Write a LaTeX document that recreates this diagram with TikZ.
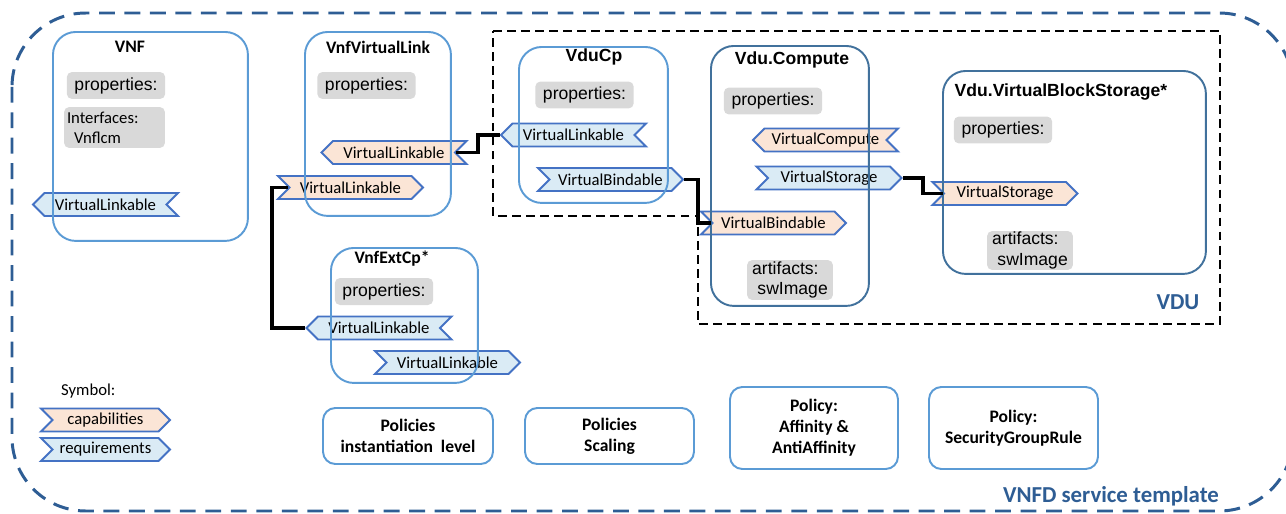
\documentclass[tikz,border=0pt]{standalone}
\usepackage{fontspec}
\setmainfont{Carlito}
\newfontfamily\arial{Liberation Sans}
\usetikzlibrary{shapes.symbols,calc}
\definecolor{boxblue}{HTML}{5B9BD5}
\definecolor{darkbox}{HTML}{41719C}
\definecolor{tagline}{HTML}{4472C4}
\definecolor{capfill}{HTML}{FBE5D6}
\definecolor{reqfill}{HTML}{DAEBF5}
\definecolor{propgray}{HTML}{D9D9D9}
\definecolor{tplblue}{HTML}{2E5D94}

\begin{document}
\begin{tikzpicture}[x=0.02cm,y=-0.02cm,
        box/.style={draw=boxblue,line width=1.1pt,rounded corners=13pt,anchor=north west,inner sep=0},
        dbox/.style={box,draw=darkbox},
        pbox/.style={draw=boxblue,line width=1.1pt,rounded corners=7pt,inner sep=0,align=center,font=\bfseries\fontsize{10}{12}\selectfont},
        prop/.style={fill=propgray,rounded corners=3pt,inner sep=0,minimum width=1.97cm,minimum height=0.54cm,font=\arial\fontsize{10}{12}\selectfont},
        tag/.style={signal,draw=tagline,line width=1.1pt,signal pointer angle=90,minimum width=2.9cm,minimum height=0.46cm,inner sep=0,font=\fontsize{9.5}{11}\selectfont},
        capl/.style={tag,fill=capfill,signal to=west,signal from=east},
        capr/.style={tag,fill=capfill,signal to=east,signal from=west},
        reql/.style={tag,fill=reqfill,signal to=west,signal from=east},
        reqr/.style={tag,fill=reqfill,signal to=east,signal from=west},
        link/.style={line width=2pt},
        ttl/.style={font=\bfseries\fontsize{10}{12}\selectfont},
        attl/.style={font=\arial\bfseries\fontsize{10}{12}\selectfont}]
        \useasboundingbox (0,0) rectangle (1286,514);
        \draw[tplblue,line width=1.7pt,dash pattern=on 9pt off 5.5pt,rounded corners=42pt] (12,13) rectangle (1293,511);
        \draw[line width=1.2pt,dash pattern=on 5pt off 3pt] (493,31) -- (1220,31) -- (1220,324) -- (698,324) -- (698,216) -- (493,216) -- cycle;
        \foreach \n/\x/\y in {vnfprop/116/85.5, vvlprop/366.5/85.5, cpprop/584.5/95, vcprop/773/101, vbsprop/1003/130, extprop/384/291.5}
            {
                \node[prop] (\n) at (\x,\y) {properties:};
            }
        \node[prop,minimum width=2.02cm,minimum height=0.82cm,text width=1.9cm,align=left,font=\fontsize{9.5}{11.5}\selectfont] (vnfintf) at (114.5,127.5) {Interfaces:\\\hspace*{4pt}Vnflcm};
        \node[prop,minimum width=1.72cm,minimum height=0.8cm,align=left,font=\arial\fontsize{10}{11.5}\selectfont] (vcart) at (790,280) {artifacts:\\\hspace*{3pt}swImage};
        \node[prop,minimum width=1.72cm,minimum height=0.78cm,align=left,font=\arial\fontsize{10}{11.5}\selectfont] (vbsart) at (1030,250.5) {artifacts:\\\hspace*{3pt}swImage};
        \foreach \n/\s/\x/\y/\t in {vnfreq/reql/105.5/204.5/VirtualLinkable, vvlcapA/capl/394/152.5/VirtualLinkable, vvlcapB/capr/350.5/187.5/VirtualLinkable, cpreqA/reql/573.5/135/VirtualLinkable, cpreqB/reqr/610.5/179.5/VirtualBindable, vccapA/capl/825.5/140/VirtualCompute, vcreq/reqr/829/178/VirtualStorage, vccapB/capr/773.5/223/VirtualBindable, vbscap/capr/1005/193.5/VirtualStorage, extreqA/reql/379/328/VirtualLinkable, extreqB/reqr/447.5/362.5/VirtualLinkable}
            {
                \node[\s] (\n) at (\x,\y) {\t};
            }
        \node[font=\fontsize{9.5}{11}\selectfont,anchor=west] (sym) at (55,391) {Symbol:};
        \node[capr,minimum width=2.58cm] (legcap) at (105.5,420) {capabilities};
        \node[reqr,minimum width=2.58cm] (legreq) at (105.5,449.5) {requirements};
        \foreach \n/\x/\y/\w/\h in {vnf/52/31/3.9/4.18, vvl/304/31/2.92/3.68, cp/518/46/2.98/3.12, ext/330/247/2.94/2.7}
            {
                \node[box,minimum width=\w cm,minimum height=\h cm] (\n) at (\x,\y) {};
            }
        \node[dbox,minimum width=3.16cm,minimum height=5.2cm] (vc) at (710,45) {};
        \node[dbox,minimum width=5.26cm,minimum height=4.06cm] (vbs) at (942,70) {};
        \node[pbox,minimum width=3.4cm,minimum height=1.12cm] (polinst) at (408,436) {Policies\\instantiation\ \ level};
        \node[pbox,minimum width=3.38cm,minimum height=1.12cm] (polscale) at (609.5,436) {Policies\\Scaling};
        \node[pbox,minimum width=3.36cm,minimum height=1.64cm] (polaff) at (814,428) {Policy:\\Affinity \&\\AntiAffinity};
        \node[pbox,minimum width=3.38cm,minimum height=1.64cm] (polsec) at (1013.5,428) {Policy:\\SecurityGroupRule};
        \node[ttl] (vnfname) at (130,47) {VNF};
        \node[ttl] (vvlname) at (378,47) {VnfVirtualLink};
        \node[attl] (cpname) at (594,57) {VduCp};
        \node[attl] (vcname) at (792,60) {Vdu.Compute};
        \node[attl] (vbsname) at (1061,92) {Vdu.VirtualBlockStorage*};
        \node[ttl] (extname) at (392,259) {VnfExtCp*};
        \node[font=\bfseries\fontsize{13}{15}\selectfont,text=tplblue] (vdulabel) at (1178,302) {VDU};
        \node[font=\bfseries\fontsize{13}{15}\selectfont,text=tplblue] (tpllabel) at (1111,496) {VNFD service template};
        \draw[link] (vvlcapA.east) -| ($(vvlcapA.east)!0.5!(cpreqA.west)$) |- (cpreqA.west);
        \draw[link] (vvlcapB.west) -- ++(-16,0) |- (extreqA.west);
        \draw[link] (cpreqB.east) -| ($(cpreqB.east)!0.5!(vccapB.west)$) |- (vccapB.west);
        \draw[link] (vcreq.east) -| ($(vcreq.east)!0.5!(vbscap.west)$) |- (vbscap.west);
    \end{tikzpicture}
\end{document}
